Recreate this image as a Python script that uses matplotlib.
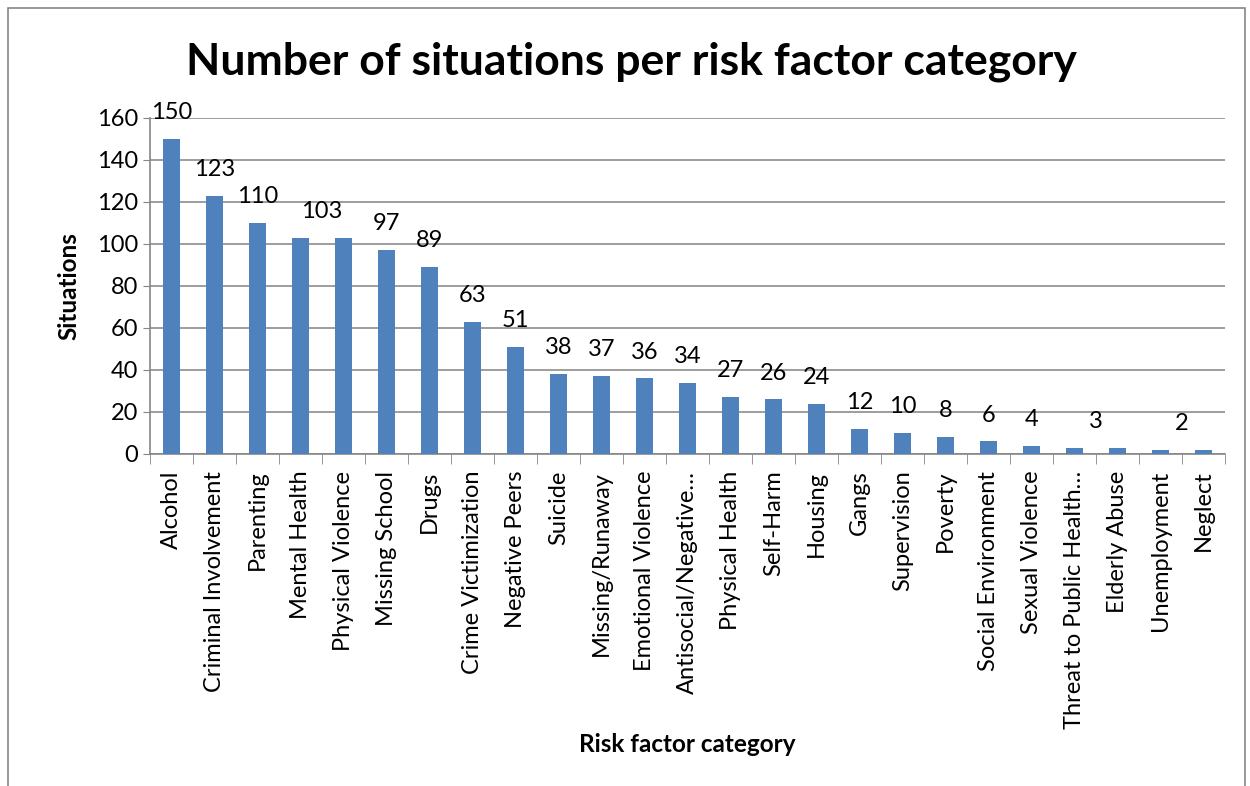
import matplotlib.pyplot as plt
from matplotlib.patches import Rectangle

categories = ['Alcohol', 'Criminal Involvement', 'Parenting', 'Mental Health',
              'Physical Violence', 'Missing School', 'Drugs', 'Crime Victimization',
              'Negative Peers', 'Suicide', 'Missing/Runaway', 'Emotional Violence',
              'Antisocial/Negative\u2026', 'Physical Health', 'Self-Harm', 'Housing',
              'Gangs', 'Supervision', 'Poverty', 'Social Environment',
              'Sexual Violence', 'Threat to Public Health\u2026', 'Elderly Abuse',
              'Unemployment', 'Neglect']
situations = [150, 123, 110, 103, 103, 97, 89, 63, 51, 38, 37, 36, 34, 27, 26,
              24, 12, 10, 8, 6, 4, 3, 3, 2, 2]

plt.rcParams['font.family'] = ['Lato', 'DejaVu Sans']

fig = plt.figure(figsize=(12.5, 7.86), dpi=100)
ax = fig.add_axes([150 / 1250, 1 - 454 / 786, 1075 / 1250, 336 / 786])

x = range(len(categories))
ax.bar(x, situations, width=0.4, color='#4F81BD', zorder=3)

# data labels; adjacent equal values share one label
i = 0
while i < len(situations):
    if i + 1 < len(situations) and situations[i + 1] == situations[i]:
        xpos = i + 0.5
        step = 2
    else:
        xpos = i
        step = 1
    ax.annotate(str(situations[i]), (xpos, situations[i]), xytext=(0, 19),
                textcoords='offset points', ha='center', va='center',
                fontsize=17, annotation_clip=False)
    i += step

ax.set_xlim(-0.5, len(categories) - 0.5)
ax.set_ylim(0, 160)
ax.set_yticks(range(0, 161, 20))
ax.tick_params(axis='y', labelsize=17, length=5, color='#868686')
ax.yaxis.grid(True, color='#8c8c8c', linewidth=1.2, zorder=0)

ax.set_xticks(list(x))
ax.set_xticklabels(categories, rotation=90, fontsize=17)
ax.set_xticks([k + 0.5 for k in range(-1, len(categories))], minor=True)
ax.tick_params(axis='x', which='major', length=0, pad=12)
ax.tick_params(axis='x', which='minor', length=7, color='#868686')

for side in ['top', 'right']:
    ax.spines[side].set_visible(False)
for side in ['left', 'bottom']:
    ax.spines[side].set_color('#868686')
    ax.spines[side].set_linewidth(1.2)

ax.set_ylabel('Situations', fontsize=17.5, fontweight='bold', labelpad=12)
fig.text(0.5 * (150 + 1225) / 1250, 1 - 745 / 786, 'Risk factor category',
         ha='center', va='center', fontsize=17.5, fontweight='bold')
fig.text(0.5 * (185 + 1077) / 1250, 1 - 62 / 786,
         'Number of situations per risk factor category',
         ha='center', va='center', fontsize=32, fontweight='bold')

fig.patches.append(Rectangle((8 / 1250, -0.05), 1237 / 1250, 1 - 8 / 786 + 0.05,
                             transform=fig.transFigure, fill=False,
                             edgecolor='#868686', linewidth=1.2))

fig.savefig('out.png', dpi=100)
